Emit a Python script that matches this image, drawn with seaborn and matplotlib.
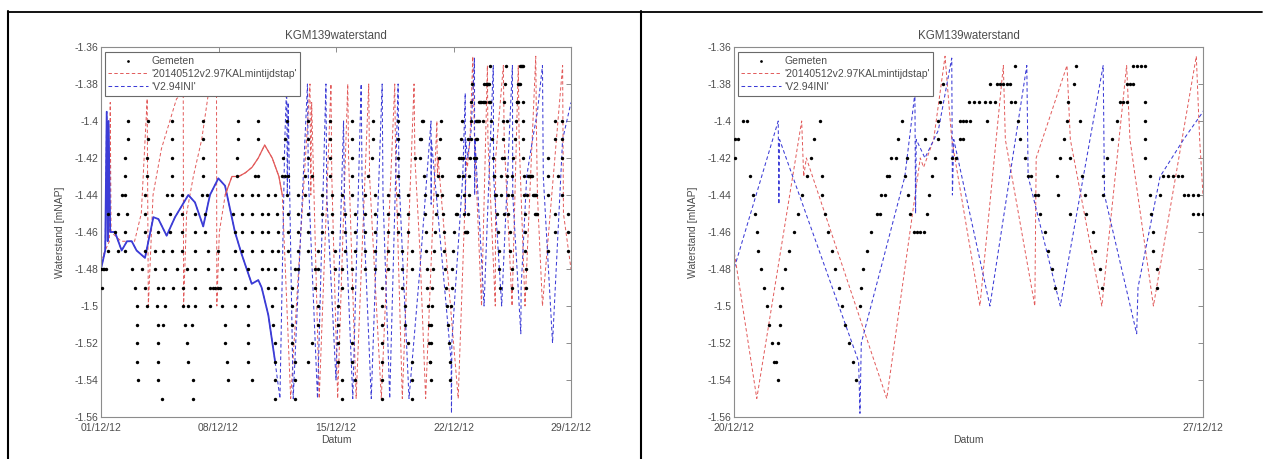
import matplotlib
matplotlib.use("Agg")
import pandas as pd
import matplotlib.pyplot as plt
import matplotlib.dates as mdates
from matplotlib.lines import Line2D
from matplotlib.ticker import MultipleLocator, FuncFormatter
import seaborn as sns

START = pd.Timestamp("2012-12-01")

# Gemeten waterstand: per niveau [mNAP] de tijdstippen (dagen na 01/12/12)
meet_niveau = [-1.37, -1.38, -1.39, -1.40, -1.41, -1.42, -1.43, -1.44,
               -1.45, -1.46, -1.47, -1.48, -1.49, -1.50, -1.51, -1.52,
               -1.53, -1.54, -1.55]
meet_dagen = [
    [23.19, 24.11, 24.96, 25.02, 25.08, 25.13],
    [22.12, 22.82, 22.92, 22.97, 23.02, 23.07, 23.12, 24.07, 24.86, 24.91, 24.96],
    [22.07, 22.50, 22.58, 22.66, 22.74, 22.82, 22.90, 23.14, 23.19, 23.99, 24.76,
     24.81, 24.86, 25.13],
    [1.63, 2.82, 4.21, 6.09, 8.18, 9.37, 11.06, 12.35, 13.64, 14.93, 16.22, 17.71,
     19.14, 19.19, 20.28, 21.50, 22.05, 22.37, 22.42, 22.47, 22.52, 22.77, 23.24,
     23.97, 24.16, 24.71, 25.13, 27.04, 27.44],
    [1.63, 2.82, 4.21, 6.09, 8.18, 9.37, 10.96, 12.35, 13.64, 14.93, 16.22, 17.71,
     19.01, 19.06, 20.20, 21.45, 21.85, 22.05, 22.37, 22.42, 23.27, 23.92, 24.64,
     25.13, 27.04, 27.44],
    [1.43, 2.72, 4.21, 6.09, 8.08, 10.86, 12.35, 13.64, 14.93, 16.12, 17.71, 18.71,
     19.01, 20.15, 21.35, 21.42, 21.58, 22.00, 22.25, 22.32, 23.34, 23.87, 24.02,
     24.56, 25.13, 26.64, 27.44],
    [1.43, 2.72, 4.21, 6.09, 8.08, 9.20, 9.37, 10.76, 10.96, 11.16, 12.15, 12.55,
     13.64, 14.93, 15.93, 17.71, 19.24, 20.09, 20.31, 21.28, 21.32, 21.55, 21.95,
     23.39, 23.44, 23.82, 24.19, 24.51, 25.21, 25.41, 25.48, 25.55, 25.62, 25.68,
     26.64, 27.24],
    [1.23, 1.43, 2.62, 3.91, 4.21, 4.81, 5.99, 6.29, 7.98, 8.38, 8.98, 9.37, 9.97,
     10.37, 11.06, 11.75, 12.15, 13.15, 13.74, 14.34, 14.93, 15.73, 16.32, 17.12,
     17.71, 18.31, 19.29, 20.01, 20.32, 21.20, 21.25, 21.60, 21.91, 23.49, 23.54,
     23.84, 24.24, 24.51, 25.21, 25.36, 25.71, 25.78, 25.85, 25.93, 26.64, 27.44],
    [0.44, 1.03, 1.53, 2.62, 4.11, 4.81, 5.60, 6.19, 7.88, 8.38, 8.98, 9.57, 9.97,
     10.47, 11.16, 11.75, 12.35, 13.15, 13.74, 14.53, 15.13, 15.73, 16.32, 17.12,
     17.71, 18.31, 19.31, 19.95, 20.36, 21.13, 21.18, 21.63, 21.88, 23.57, 24.02,
     24.26, 25.23, 25.85, 25.92, 26.00, 27.04, 27.83],
    [0.83, 1.43, 2.62, 3.42, 4.11, 4.81, 5.60, 6.19, 7.98, 8.38, 8.98, 9.57, 9.97,
     10.56, 11.16, 11.75, 12.35, 13.15, 13.74, 14.53, 15.13, 15.73, 16.32, 17.12,
     17.71, 18.31, 19.34, 19.89, 20.41, 21.05, 21.68, 21.73, 21.78, 21.83, 23.64,
     24.36, 25.26, 27.04, 27.83],
    [0.44, 1.03, 1.43, 2.62, 3.22, 3.71, 4.21, 4.81, 5.60, 6.39, 6.99, 7.98, 8.38,
     8.98, 9.57, 10.17, 10.56, 11.16, 11.75, 12.35, 12.94, 13.94, 14.53, 15.13,
     15.73, 16.32, 17.12, 17.91, 18.51, 19.36, 19.82, 20.46, 20.98, 23.69, 24.39,
     25.26, 26.64, 27.83],
    [0.00, 0.10, 0.20, 0.30, 1.83, 2.42, 3.22, 3.81, 4.51, 5.10, 5.60, 6.39, 7.19,
     7.98, 8.78, 9.57, 9.97, 10.37, 11.56, 11.75, 12.75, 12.94, 13.94, 14.34, 14.93,
     15.73, 16.32, 17.12, 17.91, 18.51, 19.40, 19.76, 20.51, 20.92, 23.74, 24.46,
     25.31],
    [0.04, 2.03, 2.62, 3.42, 3.71, 4.31, 4.91, 5.60, 6.49, 6.65, 6.80, 6.95, 7.09,
     7.98, 8.58, 9.97, 10.37, 11.36, 12.75, 14.34, 14.93, 16.72, 17.91, 19.45,
     19.71, 20.56, 20.89, 23.79, 24.49, 25.31],
    [2.12, 2.72, 3.32, 3.81, 4.91, 5.20, 5.60, 6.49, 7.19, 7.98, 8.78, 10.17, 11.36,
     12.94, 14.14, 16.72, 18.11, 19.49, 19.69, 20.61, 20.88],
    [2.12, 3.42, 3.71, 5.00, 5.40, 7.39, 8.78, 10.26, 11.36, 12.94, 14.14, 16.72,
     18.11, 19.52, 19.68, 20.66],
    [2.12, 3.42, 5.10, 7.39, 8.78, 10.37, 11.36, 12.55, 14.14, 14.93, 16.72, 18.31,
     19.56, 19.66, 20.72],
    [2.12, 3.42, 5.20, 7.49, 8.78, 10.37, 11.56, 12.35, 14.14, 14.93, 16.72, 18.51,
     19.60, 19.62, 20.78],
    [2.22, 3.42, 5.50, 7.58, 8.98, 10.37, 11.56, 14.34, 15.13, 16.72, 18.51, 19.65,
     20.82],
    [3.61, 5.50, 10.37, 11.56, 14.34, 16.72, 18.51],
]

# Model '20140512v2.97KALmintijdstap' (rood)
kal_dag = [0.00, 0.50, 0.55, 0.60, 1.20, 2.00, 2.40, 2.75, 2.82, 3.10, 3.60, 4.50,
           4.90, 4.92, 5.10, 5.50, 6.00, 6.40, 6.88, 6.90, 7.05, 7.40, 7.80, 8.20,
           8.60, 9.00, 9.37, 9.75, 10.20, 10.60, 10.80, 11.30, 12.45, 12.50, 12.55,
           13.00, 13.70, 13.75, 14.10, 14.70, 14.75, 15.20, 15.95, 16.00, 16.70,
           17.50, 17.55, 17.95, 18.65, 18.70, 19.00, 19.34, 20.01, 20.04, 20.08,
           21.28, 21.78, 21.83, 21.98, 22.15, 22.25, 22.67, 23.02, 23.05, 23.49,
           23.51, 23.97, 24.02, 24.49, 24.86, 24.91, 25.26, 25.90, 25.95, 26.00,
           26.30, 27.50, 27.55, 28.00]
kal_h = [-1.475, -1.465, -1.39, -1.46, -1.465, -1.465, -1.45, -1.388, -1.50, -1.44,
         -1.415, -1.388, -1.385, -1.50, -1.45, -1.43, -1.41, -1.385, -1.37, -1.50,
         -1.46, -1.44, -1.43, -1.43, -1.428, -1.425, -1.42, -1.413, -1.42, -1.43,
         -1.44, -1.55, -1.38, -1.44, -1.39, -1.55, -1.38, -1.43, -1.55, -1.38,
         -1.42, -1.55, -1.38, -1.43, -1.55, -1.38, -1.42, -1.55, -1.38, -1.42,
         -1.47, -1.55, -1.40, -1.43, -1.42, -1.55, -1.42, -1.425, -1.41, -1.365,
         -1.41, -1.50, -1.37, -1.41, -1.50, -1.42, -1.37, -1.41, -1.50, -1.37,
         -1.41, -1.50, -1.365, -1.41, -1.44, -1.50, -1.37, -1.45, -1.48]

# Model 'V2.94INI' (blauw)
ini_dag = [0.00, 0.25, 0.34, 0.40, 0.45, 0.55, 0.83, 1.23, 1.55, 1.83, 2.12, 2.62,
           3.12, 3.42, 3.91, 4.41, 5.20, 5.60, 6.09, 6.49, 6.99, 7.39, 7.98, 8.38,
           8.98, 9.37, 9.57, 9.97, 10.37, 10.66, 10.95, 11.06, 11.10, 11.15, 11.45,
           12.30, 12.35, 12.90, 13.40, 13.45, 14.00, 14.45, 14.50, 15.00, 15.50,
           15.55, 16.10, 16.75, 16.80, 17.20, 17.70, 17.75, 18.35, 19.00, 19.66,
           19.67, 19.68, 20.86, 20.88, 20.90, 21.55, 21.70, 21.71, 21.72, 21.85,
           22.05, 22.25, 22.26, 22.28, 22.82, 23.37, 23.39, 23.87, 24.51, 24.53,
           25.01, 25.03, 25.36, 25.71, 26.00, 26.30, 26.35, 26.90, 27.50, 28.00]
ini_h = [-1.48, -1.47, -1.395, -1.465, -1.40, -1.46, -1.46, -1.47, -1.465, -1.465,
         -1.47, -1.474, -1.452, -1.453, -1.462, -1.452, -1.44, -1.444, -1.457, -1.44,
         -1.431, -1.435, -1.46, -1.472, -1.488, -1.486, -1.49, -1.505, -1.53, -1.55,
         -1.41, -1.38, -1.44, -1.39, -1.55, -1.38, -1.43, -1.55, -1.38, -1.44,
         -1.54, -1.40, -1.44, -1.55, -1.38, -1.43, -1.55, -1.38, -1.44, -1.55,
         -1.38, -1.43, -1.55, -1.48, -1.40, -1.445, -1.41, -1.53, -1.558, -1.52,
         -1.43, -1.385, -1.45, -1.41, -1.42, -1.405, -1.366, -1.44, -1.41, -1.50,
         -1.37, -1.43, -1.50, -1.37, -1.44, -1.515, -1.49, -1.43, -1.41, -1.395,
         -1.37, -1.43, -1.52, -1.41, -1.39]

labels = ["Gemeten", "'20140512v2.97KALmintijdstap'", "'V2.94INI'"]


def to_time(days):
    return START + pd.to_timedelta(pd.Series(days, dtype=float), unit="D")


meet = pd.DataFrame({
    "tijd": to_time([d for ds in meet_dagen for d in ds]),
    "h": [h for h, ds in zip(meet_niveau, meet_dagen) for _ in ds],
})
kal = pd.DataFrame({"dag": kal_dag, "tijd": to_time(kal_dag), "h": kal_h})
ini = pd.DataFrame({"dag": ini_dag, "tijd": to_time(ini_dag), "h": ini_h})

sns.set_theme(style="white")
plt.rcParams["font.family"] = ["Liberation Sans", "DejaVu Sans"]
TXT = "#4d4d4d"
EDGE = "#8c8c8c"
FS = 7.5
RED = "#e25a5a"
BLUE = "#3c3cd6"
DASH = (0, (3.5, 2.5))

fig = plt.figure(figsize=(12.63, 4.59), dpi=100)


def panel(rect, x0, x1, xticks, dicht=False):
    ax = fig.add_axes(rect)
    sns.lineplot(data=kal, x="tijd", y="h", ax=ax, sort=False, estimator=None,
                 color=RED, lw=0.7, linestyle=DASH, label=labels[1], zorder=2)
    sns.lineplot(data=ini, x="tijd", y="h", ax=ax, sort=False, estimator=None,
                 color=BLUE, lw=0.75, linestyle=DASH, label=labels[2], zorder=2)
    if dicht:
        # dicht bemonsterde stukken tekenen in het origineel als doorgetrokken lijn
        sns.lineplot(data=ini[ini["dag"] <= 10.4], x="tijd", y="h", ax=ax,
                     sort=False, estimator=None, color=BLUE, lw=1.3, zorder=2)
        sns.lineplot(data=kal[(kal["dag"] >= 7.4) & (kal["dag"] <= 10.8)], x="tijd",
                     y="h", ax=ax, sort=False, estimator=None, color=RED, lw=0.9,
                     zorder=2)
    sns.scatterplot(data=meet, x="tijd", y="h", ax=ax, color="black", s=6,
                    marker="o", linewidth=0, label=labels[0], zorder=3)

    ax.set_xlim(pd.Timestamp(x0), pd.Timestamp(x1))
    ax.set_ylim(-1.56, -1.36)
    ax.set_xticks(pd.to_datetime(xticks))
    ax.xaxis.set_major_formatter(mdates.DateFormatter("%d/%m/%y"))
    ax.yaxis.set_major_locator(MultipleLocator(0.02))
    ax.yaxis.set_major_formatter(FuncFormatter(lambda v, p: f"{round(v, 2):g}"))
    ax.tick_params(direction="in", top=True, right=True, length=3.5, width=0.7,
                   colors=EDGE, labelcolor=TXT, labelsize=FS, pad=2)
    ax.tick_params(axis="x", pad=4)
    for s in ax.spines.values():
        s.set_color(EDGE)
        s.set_linewidth(0.8)

    ax.set_title("KGM139waterstand", fontsize=8.3, color=TXT, pad=6)
    ax.set_xlabel("Datum", fontsize=FS, color=TXT, labelpad=2)
    ax.set_ylabel("Waterstand [mNAP]", fontsize=FS, color=TXT, labelpad=7)

    h, l = ax.get_legend_handles_labels()
    order = [l.index(t) for t in labels]
    leg = ax.legend([h[i] for i in order], [l[i] for i in order], loc="upper left",
                    bbox_to_anchor=(0.008, 0.986), borderaxespad=0, fontsize=FS,
                    frameon=True, fancybox=False, framealpha=1, edgecolor="#6a6a6a",
                    handlelength=3.8, handletextpad=0.3, labelspacing=0.3,
                    borderpad=0.35, markerscale=0.8)
    leg.get_frame().set_linewidth(0.8)
    leg.set_zorder(10)
    for t in leg.get_texts():
        t.set_color(TXT)
    return ax


W, H = 1263, 459
panel([101 / W, 42 / H, 470 / W, 370 / H], "2012-12-01", "2012-12-29",
      ["2012-12-01", "2012-12-08", "2012-12-15", "2012-12-22", "2012-12-29"],
      dicht=True)
panel([734 / W, 42 / H, 469 / W, 370 / H], "2012-12-20", "2012-12-27",
      ["2012-12-20", "2012-12-27"])

# omkadering zoals in het document
fig.add_artist(Line2D([8 / W, 1262 / W], [1 - 11.5 / H] * 2, transform=fig.transFigure,
                      color="black", lw=1.3))
fig.add_artist(Line2D([8 / W] * 2, [0, 1 - 11 / H], transform=fig.transFigure,
                      color="black", lw=1.5))
fig.add_artist(Line2D([641 / W] * 2, [0, 1 - 11 / H], transform=fig.transFigure,
                      color="black", lw=1.5))

fig.savefig("out.png", dpi=100)
